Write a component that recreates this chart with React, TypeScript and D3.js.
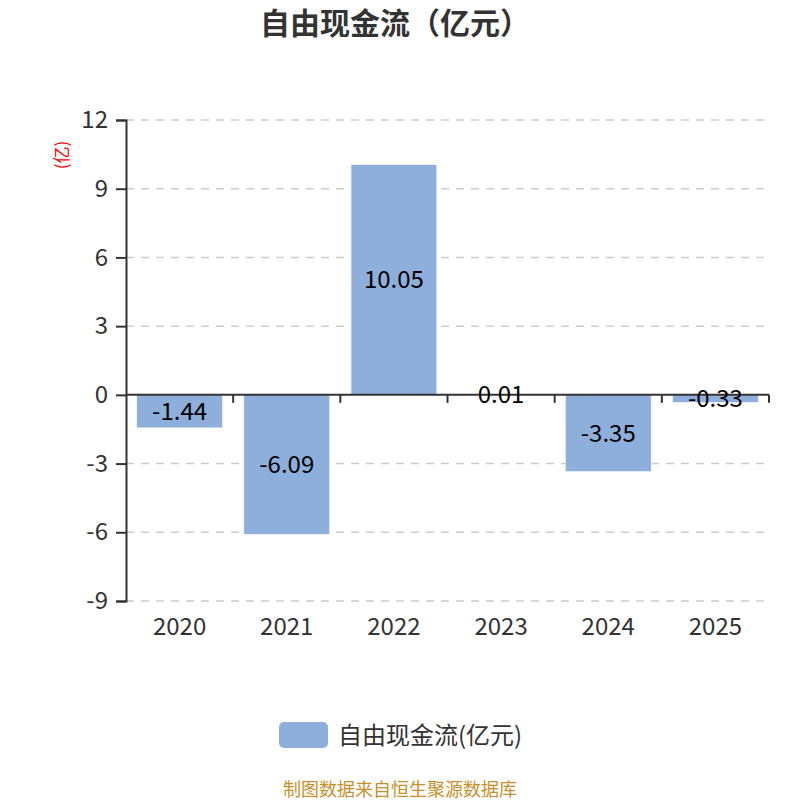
import {useEffect, useRef} from "react";
import * as d3 from "d3";

const years = ["2020", "2021", "2022", "2023", "2024", "2025"];
const freeCashFlow = [-1.44, -6.09, 10.05, 0.01, -3.35, -0.33];
const yTicks = [-9, -6, -3, 0, 3, 6, 9, 12];

export default function App() {
    const chartRef = useRef<SVGSVGElement>(null);

    useEffect(() => {
        const width = 800;
        const height = 800;
        const marginLeft = 126;
        const marginRight = 31;
        const marginTop = 120;
        const plotBottom = 601;
        const font = "'Noto Sans CJK SC', 'Noto Sans', sans-serif";

        if (!chartRef.current) return;
        const svg = d3.select(chartRef.current);
        svg.selectAll("*").remove();
        svg.attr("viewBox", [0, 0, width, height]).attr("width", width).attr("height", height);

        const xScale = d3.scaleBand()
            .domain(years)
            .range([marginLeft, width - marginRight])
            .paddingInner(0.2)
            .paddingOuter(0.1);
        const bandStep = xScale.step();

        const yScale = d3.scaleLinear()
            .domain([-9, 12])
            .range([plotBottom, marginTop]);

        // Title
        svg.append("text")
            .attr("x", 395)
            .attr("y", 34)
            .attr("text-anchor", "middle")
            .attr("font-family", font)
            .attr("font-size", 30)
            .attr("font-weight", "bold")
            .attr("fill", "#333")
            .text("自由现金流（亿元）");

        // Grid lines
        svg.append("g")
            .selectAll("line")
            .data(yTicks.filter(t => t !== 0))
            .join("line")
            .attr("x1", marginLeft)
            .attr("x2", width - marginRight)
            .attr("y1", d => yScale(d))
            .attr("y2", d => yScale(d))
            .attr("stroke", "#ccc")
            .attr("stroke-width", 1.5)
            .attr("stroke-dasharray", "8,7");

        // Bars
        svg.append("g")
            .selectAll("rect")
            .data(years)
            .join("rect")
            .attr("x", d => xScale(d)!)
            .attr("width", xScale.bandwidth())
            .attr("y", (d, i) => yScale(Math.max(0, freeCashFlow[i])))
            .attr("height", (d, i) => Math.abs(yScale(freeCashFlow[i]) - yScale(0)))
            .attr("fill", "#8eaedb")
            .attr("stroke", "#fff")
            .attr("stroke-width", 0.5);

        // Y axis
        const yAxis = svg.append("g")
            .attr("transform", `translate(${marginLeft},0)`)
            .call(d3.axisLeft(yScale).tickValues(yTicks).tickSize(10).tickPadding(8).tickFormat(d => String(d)));
        yAxis.select(".domain").attr("stroke", "#333").attr("stroke-width", 2);
        yAxis.selectAll(".tick line").attr("stroke", "#333").attr("stroke-width", 2);
        yAxis.selectAll(".tick text")
            .attr("font-family", font)
            .attr("font-size", 24)
            .attr("fill", "#333");

        // X axis at zero with boundary ticks
        const xAxisG = svg.append("g");
        xAxisG.append("line")
            .attr("x1", marginLeft)
            .attr("x2", width - marginRight)
            .attr("y1", yScale(0))
            .attr("y2", yScale(0))
            .attr("stroke", "#333")
            .attr("stroke-width", 2);
        xAxisG.selectAll("line.tick")
            .data(years)
            .join("line")
            .attr("class", "tick")
            .attr("x1", d => xScale(d)! - xScale.bandwidth() * 0.125 + bandStep)
            .attr("x2", d => xScale(d)! - xScale.bandwidth() * 0.125 + bandStep)
            .attr("y1", yScale(0))
            .attr("y2", yScale(0) + 8)
            .attr("stroke", "#333")
            .attr("stroke-width", 2);

        // Category labels
        svg.append("g")
            .selectAll("text")
            .data(years)
            .join("text")
            .attr("x", d => xScale(d)! + xScale.bandwidth() / 2)
            .attr("y", plotBottom + 34)
            .attr("text-anchor", "middle")
            .attr("font-family", font)
            .attr("font-size", 24)
            .attr("fill", "#333")
            .text(d => d);

        // Value labels
        svg.append("g")
            .selectAll("text")
            .data(years)
            .join("text")
            .attr("x", d => xScale(d)! + xScale.bandwidth() / 2)
            .attr("y", (d, i) => (yScale(freeCashFlow[i]) + yScale(0)) / 2)
            .attr("dy", "0.35em")
            .attr("text-anchor", "middle")
            .attr("font-family", font)
            .attr("font-size", 24)
            .attr("fill", "#000")
            .text((d, i) => freeCashFlow[i].toFixed(2));

        // Y axis name
        svg.append("text")
            .attr("transform", `translate(68,155) rotate(-90)`)
            .attr("text-anchor", "middle")
            .attr("font-family", font)
            .attr("font-size", 17)
            .attr("fill", "red")
            .text("(亿)");

        // Legend
        svg.append("rect")
            .attr("x", 279)
            .attr("y", 722)
            .attr("width", 49)
            .attr("height", 26)
            .attr("rx", 5)
            .attr("fill", "#8eaedb");
        svg.append("text")
            .attr("x", 338)
            .attr("y", 744)
            .attr("font-family", font)
            .attr("font-size", 24)
            .attr("fill", "#333")
            .text("自由现金流(亿元)");

        // Footer
        svg.append("text")
            .attr("x", 400)
            .attr("y", 796)
            .attr("text-anchor", "middle")
            .attr("font-family", font)
            .attr("font-size", 18)
            .attr("fill", "#c8902a")
            .text("制图数据来自恒生聚源数据库");
    }, []);

    return (
        <svg ref={chartRef} style={{position: "absolute", left: 0, top: 0}}/>
    );
}
